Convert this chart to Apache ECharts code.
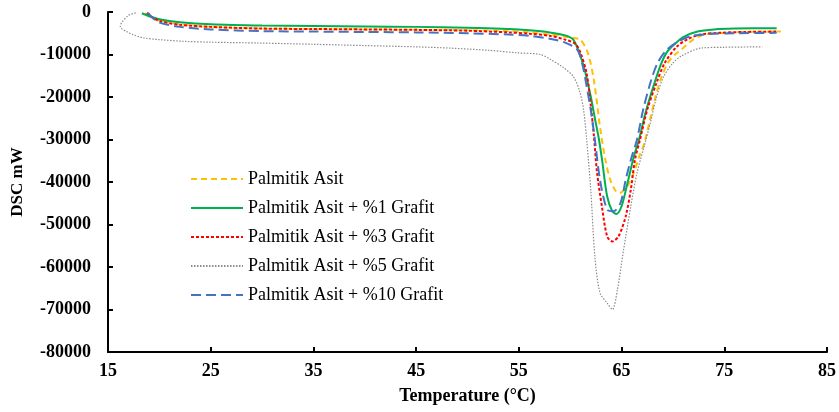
<!DOCTYPE html>
<html>
<head>
<meta charset="utf-8">
<title>DSC</title>
<script src="https://cdn.jsdelivr.net/npm/echarts@6.0.0/dist/echarts.min.js"></script>
<style>
  html, body { margin: 0; padding: 0; background: #fff; }
  #main { width: 839px; height: 412px; }
</style>
</head>
<body>
<div id="main"></div>
<script>
(function () {
    'use strict';

    var seriesNames = ['Palmitik Asit', 'Palmitik Asit + %1 Grafit', 'Palmitik Asit + %3 Grafit',
        'Palmitik Asit + %5 Grafit', 'Palmitik Asit + %10 Grafit'];

    var xTicks = [15, 25, 35, 45, 55, 65, 75, 85];
    var yTicks = [-80000, -70000, -60000, -50000, -40000, -30000, -20000, -10000, 0];

    // Palmitik Asit
    var paX = [18.6, 19.2, 20, 22, 25, 30, 35, 40, 45, 50, 54, 56, 58, 59.5, 60.5, 61, 61.7, 62.3, 62.9, 63.4,
        63.9, 64.4, 64.8, 65.3, 65.8, 66.3, 66.8, 67.2, 67.8, 68.3, 68.8, 69.5, 70.2, 70.8, 71.8, 73, 75, 77, 80.5];
    var paY = [-300, -1200, -2000, -2900, -3500, -3900, -4000, -4100, -4200, -4300, -4500, -4800, -5300, -5800,
        -6200, -6500, -9500, -16000, -27000, -34500, -39500, -42000, -42600, -41800, -40000, -37000, -33500,
        -31000, -25000, -20000, -15900, -12000, -10000, -8900, -6800, -5300, -4900, -4700, -4600];

    // %1 Grafit
    var g1X = [18.3, 19, 20, 22, 25, 30, 35, 40, 45, 50, 54, 56, 58, 59.5, 60.3, 61, 61.5, 62, 62.4, 62.8, 63.1,
        63.6, 64.1, 64.5, 65, 65.5, 66.2, 66.7, 67.3, 68.1, 68.8, 69.4, 70.1, 71, 72.4, 74, 76, 80.1];
    var g1Y = [-300, -1000, -1700, -2400, -2900, -3200, -3300, -3400, -3500, -3700, -4000, -4300, -4800, -5500,
        -6500, -10400, -14500, -19900, -25000, -30000, -34800, -43400, -46900, -47500, -45700, -41000, -34000,
        -30000, -24000, -17500, -12500, -9500, -7700, -5900, -4600, -4100, -3900, -3800];

    // %3 Grafit
    var g3X = [18.8, 19.3, 20, 22, 25, 30, 35, 40, 45, 50, 54, 56, 58, 59.5, 60.5, 61, 61.6, 62.0, 62.3, 62.6,
        63.1, 63.6, 64.1, 64.7, 65.4, 65.9, 66.3, 66.8, 67.5, 68.4, 69.2, 70.4, 71.5, 72.7, 74.5, 77, 80.2];
    var g3Y = [-200, -1200, -2100, -3000, -3500, -3900, -4000, -4100, -4200, -4400, -4800, -5100, -5600, -6500,
        -7500, -9600, -14500, -22000, -29000, -37500, -46000, -52800, -54000, -52800, -48100, -41800, -34800,
        -30000, -23000, -16700, -12000, -8100, -6300, -5300, -4900, -4700, -4600];

    // %5 Grafit
    var g5X = [17.7, 17.0, 16.3, 16.2, 16.8, 17.5, 18.5, 20, 22.4, 25, 29.8, 35, 40, 45, 48.3, 52, 54.8, 57.1,
        58.1, 59.3, 60.3, 60.9, 61.3, 61.6, 62.0, 62.4, 62.9, 63.6, 64.1, 64.6, 65.2, 65.9, 66.5, 67.2, 67.8,
        68.4, 69.1, 70.0, 70.8, 72.7, 75, 78.7];
    var g5Y = [-200, -800, -2600, -3500, -4600, -5400, -6100, -6500, -6900, -7100, -7300, -7600, -7900, -8200,
        -8500, -9000, -9600, -10000, -11200, -13000, -15200, -18500, -23000, -30000, -41800, -57500, -66100,
        -68500, -70000, -65300, -55900, -45700, -37900, -31600, -26100, -20000, -15200, -12000, -10400, -8500,
        -8300, -8200];

    // %10 Grafit
    var g10X = [18.9, 19.4, 20, 22, 25, 30, 35, 40, 45, 50, 54, 56, 58, 59.5, 60.7, 61.2, 61.6, 62.0, 62.4, 62.9,
        63.6, 64.2, 64.9, 65.4, 65.9, 66.5, 67.1, 67.8, 68.5, 69.4, 70.5, 71.7, 73.5, 76, 80.1];
    var g10Y = [-200, -1500, -2500, -3500, -4100, -4500, -4600, -4700, -4800, -5000, -5300, -5600, -6300, -7200,
        -8900, -12500, -17500, -23000, -30000, -39500, -46500, -46900, -44900, -39500, -34800, -30000, -23000,
        -16700, -12000, -8900, -7000, -5700, -5200, -5000, -4900];

    function zip(xs, ys) {
        var out = [];
        for (var i = 0; i < xs.length; i++) {
            out.push([xs[i], ys[i]]);
        }
        return out;
    }

    function line(name, xs, ys, color, type, width) {
        return {
            name: name,
            type: 'line',
            data: zip(xs, ys),
            smooth: 0.3,
            symbol: 'none',
            lineStyle: { color: color, type: type, width: width },
            itemStyle: { color: color }
        };
    }

    var font = 'Liberation Serif';
    var dom = document.getElementById('main');
    var myChart = echarts.init(dom, null, { renderer: 'canvas' });

    var option = {
        animation: false,
        backgroundColor: '#fff',
        grid: { left: 108, right: 12, top: 12, bottom: 60 },
        legend: {
            orient: 'vertical',
            left: 190,
            top: 170,
            padding: 0,
            itemWidth: 52,
            itemHeight: 14,
            itemGap: 11,
            // hide the circle that line series put in the legend icon
            itemStyle: { opacity: 0 },
            data: seriesNames,
            textStyle: { fontFamily: font, fontSize: 18, color: '#000' }
        },
        xAxis: {
            type: 'value',
            min: xTicks[0],
            max: xTicks[xTicks.length - 1],
            interval: xTicks[1] - xTicks[0],
            name: 'Temperature (°C)',
            nameLocation: 'middle',
            nameGap: 35,
            nameTextStyle: { fontFamily: font, fontSize: 18, fontWeight: 'bold', color: '#000' },
            axisLine: { onZero: false, lineStyle: { color: '#000', width: 2 } },
            axisTick: { inside: true, length: 5, lineStyle: { color: '#000', width: 2 } },
            axisLabel: { margin: 10, fontFamily: font, fontSize: 18, fontWeight: 'bold', color: '#000' },
            splitLine: { show: false }
        },
        yAxis: {
            type: 'value',
            min: yTicks[0],
            max: yTicks[yTicks.length - 1],
            interval: yTicks[1] - yTicks[0],
            name: 'DSC mW',
            nameLocation: 'middle',
            nameGap: 82,
            nameTextStyle: { fontFamily: font, fontSize: 17, fontWeight: 'bold', color: '#000' },
            axisLine: { show: true, onZero: false, lineStyle: { color: '#000', width: 2 } },
            axisTick: { show: true, inside: true, length: 5, lineStyle: { color: '#000', width: 2 } },
            axisLabel: {
                margin: 17, fontFamily: font, fontSize: 18, fontWeight: 'bold', color: '#000',
                formatter: function (v) { return String(v); }
            },
            splitLine: { show: false }
        },
        series: [
            line(seriesNames[0], paX, paY, '#FFC000', [6, 4], 2),
            line(seriesNames[1], g1X, g1Y, '#00B050', 'solid', 2),
            line(seriesNames[2], g3X, g3Y, '#FF0000', [3, 2], 2),
            line(seriesNames[3], g5X, g5Y, '#8C8C8C', [1.5, 1.5], 1.2),
            line(seriesNames[4], g10X, g10Y, '#4472C4', [10, 5], 2)
        ]
    };
    myChart.setOption(option, true);
}());
</script>
</body>
</html>
